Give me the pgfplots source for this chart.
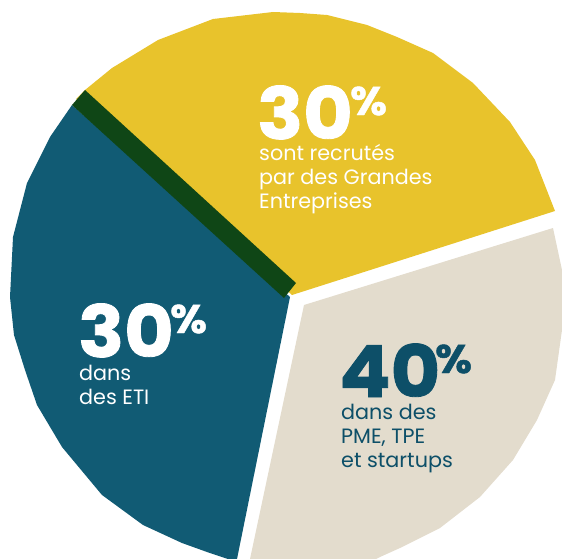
\documentclass[border=0pt]{standalone}
\usepackage{fontspec}
\setmainfont{Poppins}
\newfontfamily\numfont[FakeStretch=1.06, FakeBold=1.2]{Poppins}
\usepackage{pgfplots}
\pgfplotsset{compat=1.18}
\definecolor{cyellow}{HTML}{E8C32C}
\definecolor{cblue}{HTML}{115B74}
\definecolor{cgreen}{HTML}{0F4616}
\definecolor{cbeige}{HTML}{E3DCCD}
\definecolor{cteal}{HTML}{0D4F68}
\tikzset{
  big/.style={anchor=base west, inner sep=0, font=\fontsize{72}{72}\selectfont\numfont\bfseries},
  pct/.style={anchor=base west, inner sep=0, font=\fontsize{40}{40}\selectfont\numfont\bfseries},
  txt/.style={anchor=base west, inner sep=0, font=\fontsize{20.8}{24.5}\selectfont}
}
\newcommand\lines[1]{\begin{tabular}[t]{@{}l@{}}#1\end{tabular}}
\begin{document}
\begin{tikzpicture}
\begin{axis}[name=ax, scale only axis, width=562bp, height=559bp,
  xmin=0, xmax=562, ymin=0, ymax=559, y dir=reverse,
  hide axis, clip=true]
% Grandes Entreprises 30%
\addplot[fill=cyellow, draw=none] coordinates {(292,295) (555,211) (535,160) (510,122) (473,83) (433,53) (397,37) (367,25) (327,15) (300,13) (273,12) (213,19) (158,40) (112,68) (85,90) (76,99)} -- cycle;
% ETI 30%
\addplot[fill=cblue, draw=none] coordinates {(290,297) (72,105) (50,137) (27,183) (13,237) (10,297) (14,335) (25,370) (37,405) (62,447) (102,495) (143,525) (182,543) (207,552) (228,559) (237,559)} -- cycle;
% separator band
\addplot[fill=cgreen, draw=none] coordinates {(72,105) (85,90) (296,283) (284,298)} -- cycle;
% PME, TPE et startups 40%
\addplot[fill=cbeige, draw=none] coordinates {(304,305) (553,228) (562,270) (562,330) (555,380) (537,420) (513,460) (480,497) (440,528) (400,548) (380,557) (376,559) (250,559)} -- cycle;
% labels
\node[big, text=white] at (axis cs:257,139) {30};
\node[pct, text=white] at (axis cs:350,115) {\%};
\node[txt, text=white] at (axis cs:259,160) {\lines{sont recrutés\\par des Grandes\\Entreprises}};
\node[big, text=white] at (axis cs:78,357) {30};
\node[pct, text=white] at (axis cs:170,333) {\%};
\node[txt, text=white] at (axis cs:79,380) {\lines{dans\\des ETI}};
\node[big, text=cteal] at (axis cs:339,397) {40};
\node[pct, text=cteal] at (axis cs:435,373) {\%};
\node[txt, text=cteal] at (axis cs:341,419) {\lines{dans des\\PME, TPE\\et startups}};
\end{axis}
\path (ax.south west) rectangle (ax.north east);
\end{tikzpicture}
\end{document}
